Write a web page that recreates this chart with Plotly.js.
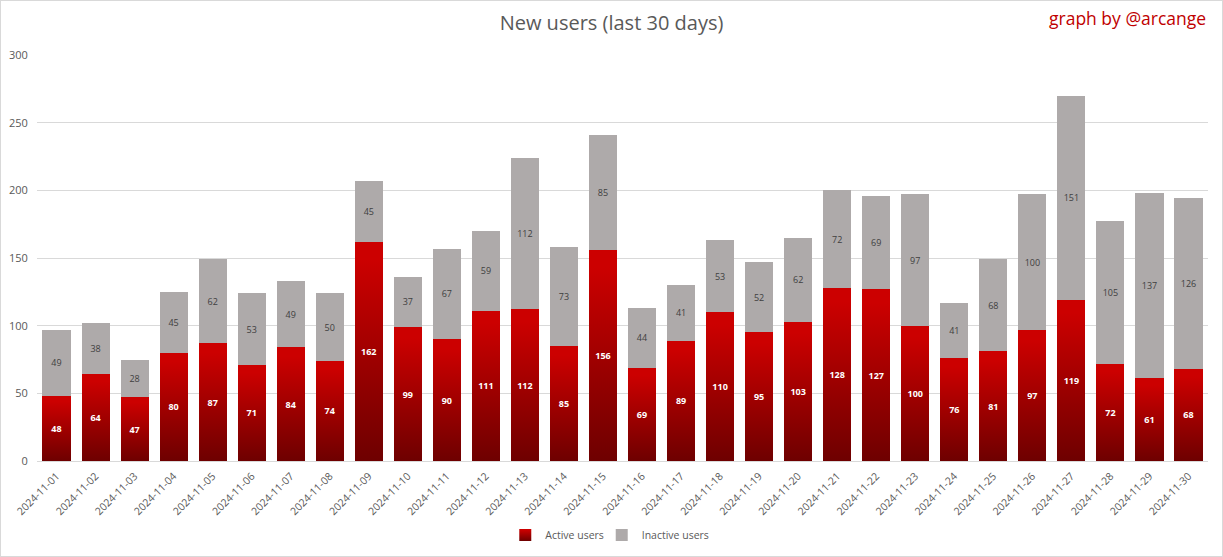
<!DOCTYPE html>
<html>
<head>
<meta charset="utf-8">
<script src="https://cdn.plot.ly/plotly-3.0.1.min.js"></script>
<style>
html,body{margin:0;padding:0;background:#fff;}
#wrap{width:1223px;height:557px;box-sizing:border-box;border:1px solid #d9d9d9;}
#chart{width:1221px;height:555px;}
</style>
</head>
<body>
<div id="wrap"><div id="chart"></div></div>
<script>
const dates = ["2024-11-01","2024-11-02","2024-11-03","2024-11-04","2024-11-05","2024-11-06","2024-11-07","2024-11-08","2024-11-09","2024-11-10","2024-11-11","2024-11-12","2024-11-13","2024-11-14","2024-11-15","2024-11-16","2024-11-17","2024-11-18","2024-11-19","2024-11-20","2024-11-21","2024-11-22","2024-11-23","2024-11-24","2024-11-25","2024-11-26","2024-11-27","2024-11-28","2024-11-29","2024-11-30"];
const activeUsers = [48,64,47,80,87,71,84,74,162,99,90,111,112,85,156,69,89,110,95,103,128,127,100,76,81,97,119,72,61,68];
const inactiveUsers = [49,38,28,45,62,53,49,50,45,37,67,59,112,73,85,44,41,53,52,62,72,69,97,41,68,100,151,105,137,126];
const yTicks = [0,50,100,150,200,250,300];

const FONT = "Open Sans, Noto Sans, sans-serif";

const traces = [
  {
    type: 'bar', name: 'Active users', x: dates, y: activeUsers, legend: 'legend',
    marker: {color: '#c00000'},
    text: activeUsers.map(String), textposition: 'inside', insidetextanchor: 'middle',
    textfont: {color: '#ffffff', size: 9, family: FONT, weight: 'bold'},
    constraintext: 'none', hoverinfo: 'none'
  },
  {
    type: 'bar', name: 'Inactive users', x: dates, y: inactiveUsers, legend: 'legend2',
    marker: {color: '#aeaaaa'},
    text: inactiveUsers.map(String), textposition: 'inside', insidetextanchor: 'middle',
    textfont: {color: '#404040', size: 9, family: FONT},
    constraintext: 'none', hoverinfo: 'none'
  }
];

const legBase = {orientation: 'h', xref: 'container', yref: 'container', y: 0.038, yanchor: 'middle', xanchor: 'left',
                 font: {size: 10.5, color: '#595959', family: FONT}, itemwidth: 30, bgcolor: 'rgba(0,0,0,0)'};

const layout = {
  width: 1221, height: 555,
  barmode: 'stack', bargap: 0.28,
  paper_bgcolor: '#ffffff', plot_bgcolor: '#ffffff',
  margin: {l: 36, r: 14, t: 54, b: 95},
  font: {family: FONT, color: '#595959'},
  title: {text: 'New users (last 30 days)', x: 0.5, xanchor: 'center', y: 0.96, yanchor: 'middle',
          font: {size: 20, color: '#595959', family: FONT}},
  xaxis: {
    type: 'category', tickangle: -45, tickfont: {size: 10.5, color: '#595959', family: FONT},
    showgrid: false, showline: true, linecolor: '#d9d9d9', linewidth: 1,
    ticks: 'outside', ticklen: 4, tickcolor: 'rgba(0,0,0,0)', automargin: false
  },
  yaxis: {
    range: [0, 300], tickvals: yTicks, ticktext: yTicks.map(String),
    tickfont: {size: 11, color: '#595959', family: FONT},
    showgrid: true, gridcolor: '#d9d9d9', gridwidth: 1, zeroline: false,
    showline: false, ticks: 'outside', ticklen: 6, tickcolor: 'rgba(0,0,0,0)', automargin: false
  },
  showlegend: true,
  legend: Object.assign({}, legBase, {x: 0.413}),
  legend2: Object.assign({}, legBase, {x: 0.492}),
  annotations: [{
    text: 'graph by @arcange', xref: 'paper', yref: 'paper', x: 1.0, y: 1.09,
    xanchor: 'right', yanchor: 'middle', showarrow: false,
    font: {size: 17.5, color: '#c00000', family: FONT}
  }]
};

Plotly.newPlot('chart', traces, layout, {displayModeBar: false, staticPlot: true}).then(function(gd){
  const svg = gd.querySelector('svg.main-svg');
  const ns = 'http://www.w3.org/2000/svg';
  let defs = svg.querySelector('defs');
  if (!defs) { defs = document.createElementNS(ns, 'defs'); svg.insertBefore(defs, svg.firstChild); }
  const grad = document.createElementNS(ns, 'linearGradient');
  grad.setAttribute('id', 'redgrad');
  grad.setAttribute('x1', '0'); grad.setAttribute('y1', '0');
  grad.setAttribute('x2', '0'); grad.setAttribute('y2', '1');
  [['0', '#cc0000'], ['0.08', '#cc0000'], ['1', '#6e0000']].forEach(function(s){
    const st = document.createElementNS(ns, 'stop');
    st.setAttribute('offset', s[0]); st.setAttribute('stop-color', s[1]);
    grad.appendChild(st);
  });
  defs.appendChild(grad);
  const tr = gd.querySelectorAll('.barlayer .trace.bars')[0];
  if (tr) tr.querySelectorAll('.point path').forEach(function(p){ p.style.fill = 'url(#redgrad)'; });
  const leg = gd.querySelector('.legend .traces');
  if (leg) leg.querySelectorAll('.legendpoints path').forEach(function(p){ p.style.fill = 'url(#redgrad)'; });
});
</script>
</body>
</html>
